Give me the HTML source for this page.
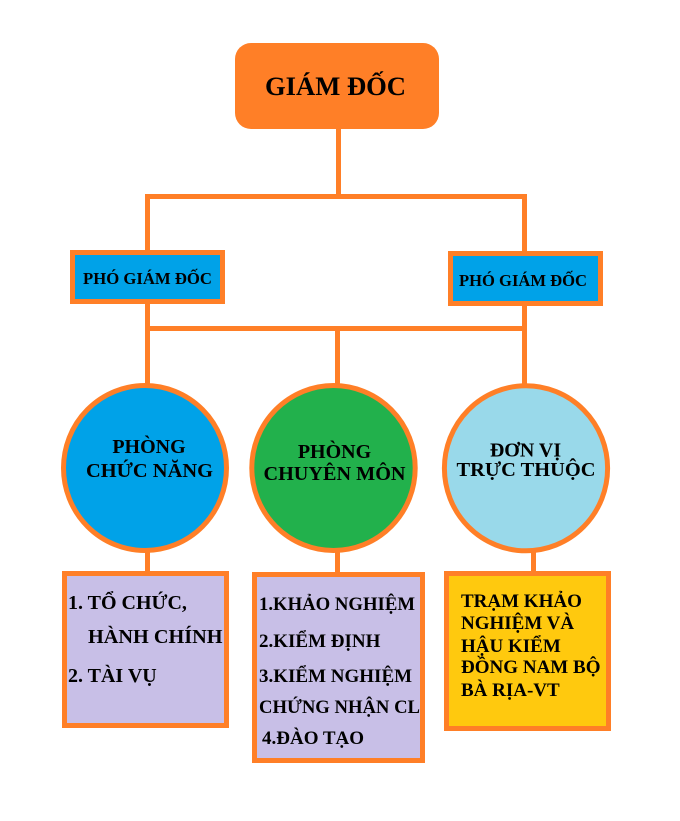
<!DOCTYPE html>
<html>
<head>
<meta charset="utf-8">
<style>
  html, body { margin: 0; padding: 0; background: #ffffff; }
  body { width: 680px; height: 821px; overflow: hidden; }
  svg { display: block; }
  text { font-family: "Liberation Serif", "Noto Serif CJK SC", serif; font-weight: bold; fill: #000; }
</style>
</head>
<body>
<svg width="680" height="821" viewBox="0 0 680 821" xmlns="http://www.w3.org/2000/svg">
  <rect x="0" y="0" width="680" height="821" fill="#ffffff"/>

  <!-- connectors -->
  <g stroke="#FF7F27" stroke-width="5" fill="none">
    <line x1="338.5" y1="125" x2="338.5" y2="197"/>
    <line x1="145" y1="196.5" x2="527" y2="196.5"/>
    <line x1="147.5" y1="194" x2="147.5" y2="252"/>
    <line x1="524.5" y1="194" x2="524.5" y2="253"/>
    <line x1="147.5" y1="302" x2="147.5" y2="386"/>
    <line x1="524.5" y1="304" x2="524.5" y2="386"/>
    <line x1="145" y1="328.5" x2="527" y2="328.5"/>
    <line x1="337.5" y1="328" x2="337.5" y2="386"/>
    <line x1="147.5" y1="550" x2="147.5" y2="573"/>
    <line x1="337.5" y1="550" x2="337.5" y2="574"/>
    <line x1="533.5" y1="550" x2="533.5" y2="573"/>
  </g>

  <!-- GIÁM ĐỐC -->
  <rect x="235" y="43" width="204" height="86" rx="16" ry="16" fill="#FF7F27"/>
  <text x="335.5" y="95" font-size="26" text-anchor="middle" textLength="141" lengthAdjust="spacingAndGlyphs">GIÁM ĐỐC</text>

  <!-- PHÓ GIÁM ĐỐC boxes -->
  <rect x="72.5" y="252.5" width="150" height="49" fill="#00A2E8" stroke="#FF7F27" stroke-width="5"/>
  <text x="83" y="284" font-size="16.5" textLength="129" lengthAdjust="spacingAndGlyphs">PHÓ GIÁM ĐỐC</text>
  <rect x="450.5" y="253.5" width="150" height="50" fill="#00A2E8" stroke="#FF7F27" stroke-width="5"/>
  <text x="459" y="286" font-size="16.5" textLength="128" lengthAdjust="spacingAndGlyphs">PHÓ GIÁM ĐỐC</text>

  <!-- circles -->
  <ellipse cx="145" cy="468" rx="81.5" ry="82.5" fill="#00A2E8" stroke="#FF7F27" stroke-width="5"/>
  <text x="149" y="453" font-size="20" text-anchor="middle">PHÒNG</text>
  <text x="149.5" y="477" font-size="20" text-anchor="middle" textLength="127" lengthAdjust="spacingAndGlyphs">CHỨC NĂNG</text>

  <ellipse cx="333.5" cy="468" rx="81.7" ry="82.5" fill="#22B14C" stroke="#FF7F27" stroke-width="5"/>
  <text x="334.5" y="458" font-size="20" text-anchor="middle">PHÒNG</text>
  <text x="334.5" y="480" font-size="20" text-anchor="middle" textLength="142" lengthAdjust="spacingAndGlyphs">CHUYÊN MÔN</text>

  <ellipse cx="526" cy="468.3" rx="81.6" ry="82.5" fill="#99D9EA" stroke="#FF7F27" stroke-width="5"/>
  <text x="525.5" y="456.5" font-size="20" text-anchor="middle">ĐƠN VỊ</text>
  <text x="526" y="476" font-size="20" text-anchor="middle" textLength="139" lengthAdjust="spacingAndGlyphs">TRỰC THUỘC</text>

  <!-- bottom boxes -->
  <rect x="64.5" y="573.5" width="162" height="152" fill="#C8BFE7" stroke="#FF7F27" stroke-width="5"/>
  <text x="68" y="609" font-size="20">1. TỔ CHỨC,</text>
  <text x="88" y="643" font-size="20" textLength="134.5" lengthAdjust="spacingAndGlyphs">HÀNH CHÍNH</text>
  <text x="68" y="682" font-size="20">2. TÀI VỤ</text>

  <rect x="254.5" y="574.5" width="168" height="186" fill="#C8BFE7" stroke="#FF7F27" stroke-width="5"/>
  <text x="259" y="610" font-size="19" textLength="156" lengthAdjust="spacingAndGlyphs">1.KHẢO NGHIỆM</text>
  <text x="259" y="647" font-size="19">2.KIỂM ĐỊNH</text>
  <text x="259" y="682" font-size="19">3.KIỂM NGHIỆM</text>
  <text x="259" y="713" font-size="19" textLength="161" lengthAdjust="spacingAndGlyphs">CHỨNG NHẬN CL</text>
  <text x="262" y="744" font-size="19">4.ĐÀO TẠO</text>

  <rect x="446.5" y="573.5" width="162" height="155" fill="#FFC90E" stroke="#FF7F27" stroke-width="5"/>
  <text x="461" y="607" font-size="19">TRẠM KHẢO</text>
  <text x="461" y="629" font-size="19">NGHIỆM VÀ</text>
  <text x="461" y="652" font-size="19">HẬU KIỂM</text>
  <text x="461" y="673" font-size="19" textLength="139.5" lengthAdjust="spacingAndGlyphs">ĐỒNG NAM BỘ</text>
  <text x="461" y="696" font-size="19">BÀ RỊA-VT</text>
</svg>
</body>
</html>
